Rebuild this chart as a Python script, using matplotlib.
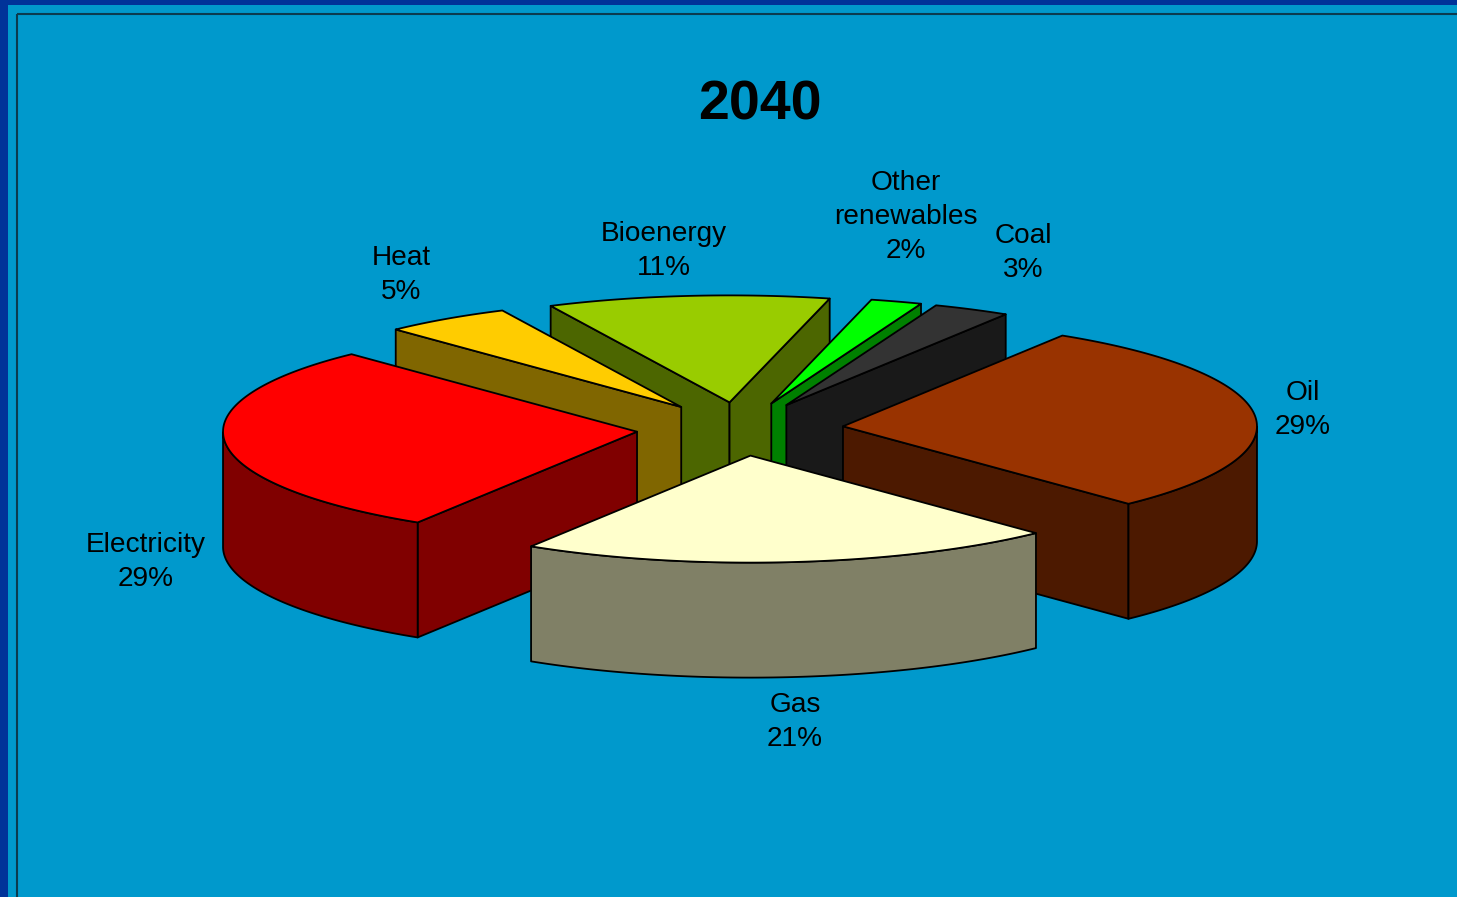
import numpy as np
import matplotlib
matplotlib.use("Agg")
import matplotlib.pyplot as plt
from matplotlib.patches import Polygon, Rectangle

plt.rcParams['font.family'] = ['Liberation Sans', 'DejaVu Sans']

# slices, clockwise from the back of the pie
names = ["Oil", "Gas", "Electricity", "Heat", "Bioenergy", "Other\nrenewables", "Coal"]
shares = [29, 21, 29, 5, 11, 2, 3]
top_colors = ["#993300", "#FFFFCC", "#FF0000", "#FFCC00", "#99CC00", "#00FF00", "#333333"]
side_colors = ["#4C1900", "#808066", "#800000", "#806600", "#4C6600", "#008000", "#191919"]

# label centres in pixels
label_x = [1303, 795, 146, 401, 664, 906, 1023]
label_y = [410, 722, 562, 275, 251, 217, 253]

# pie geometry in pixels
cx, cy = 740, 429
rx, ry = 414, 107
depth = 115
explode = 0.25
start_angle = 58


def rim(t):
    t = np.radians(t)
    return np.column_stack([rx * np.cos(t), -ry * np.sin(t)])


def draw_slice(ax, a_hi, a_lo, top, side):
    mid = np.radians((a_hi + a_lo) / 2)
    apex = np.array([cx + explode * rx * np.cos(mid), cy - explode * ry * np.sin(mid)])
    down = np.array([0, depth])
    kw = dict(edgecolor="black", linewidth=1.3, joinstyle="round")

    # cut faces, only those turned towards the viewer
    for a, normal in ((a_hi, a_hi + 90), (a_lo, a_lo - 90)):
        if np.sin(np.radians(normal)) < 0:
            p = apex + rim(a)[0]
            ax.add_patch(Polygon([apex, p, p + down, apex + down], facecolor=side, **kw))

    # outer wall, front half of the ellipse only
    ts = np.linspace(a_lo, a_hi, 200)
    ts = ts[np.sin(np.radians(ts)) < 0]
    if len(ts) > 1:
        arc = apex + rim(ts)
        ax.add_patch(Polygon(np.vstack([arc, (arc + down)[::-1]]), facecolor=side, **kw))

    # top face
    ts = np.linspace(a_hi, a_lo, 200)
    ax.add_patch(Polygon(np.vstack([apex, apex + rim(ts)]), facecolor=top, **kw))


fig = plt.figure(figsize=(14.57, 8.97), dpi=100, facecolor="#003399")
ax = fig.add_axes([0, 0, 1, 1])
ax.set_xlim(0, 1457)
ax.set_ylim(897, 0)
ax.axis("off")

# slide background and the thin chart frame
ax.add_patch(Rectangle((8, 5), 1449, 892, facecolor="#0099CC", edgecolor="none"))
ax.add_patch(Rectangle((17, 14), 1460, 900, facecolor="none", edgecolor="#0B3B4F", linewidth=1.5))

# angle range of every slice, going clockwise
sweep = np.array(shares) / sum(shares) * 360
hi = start_angle - np.concatenate([[0], np.cumsum(sweep)[:-1]])
lo = hi - sweep

# back slices first so the front ones overlap them
order = sorted(range(len(shares)), key=lambda i: -np.sin(np.radians((hi[i] + lo[i]) / 2)))
for i in order:
    draw_slice(ax, hi[i], lo[i], top_colors[i], side_colors[i])

for i, name in enumerate(names):
    ax.text(label_x[i], label_y[i], f"{name}\n{shares[i]}%", ha="center", va="center",
            fontsize=20.2, color="black", linespacing=1.39)

ax.text(760, 105.5, "2040", ha="center", va="center", fontsize=40, fontweight="bold", color="black")

fig.savefig("out.png", dpi=100, facecolor=fig.get_facecolor())
